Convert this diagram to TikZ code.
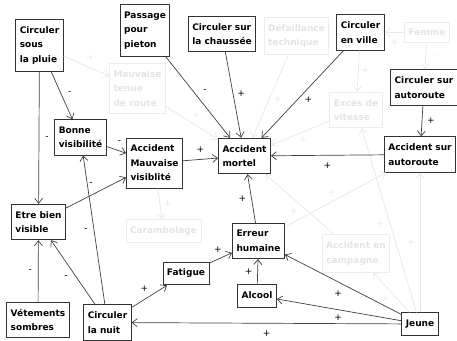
\documentclass[tikz,border=0pt]{standalone}
\usepackage{fontspec}
\setsansfont{DejaVu Sans}
\usetikzlibrary{arrows.meta}
\tikzset{
  cbox/.style={draw=black!80, line width=.9pt, align=left, inner xsep=4pt, inner ysep=7pt,
    font=\sffamily\bfseries\fontsize{9}{14.5}\selectfont},
  ghost/.style={cbox, draw=black!7, text=black!11},
  lbl/.style={inner sep=1pt, midway, font=\sffamily\fontsize{9}{10}\selectfont},
  link/.style={->, draw=black!75, line width=.7pt},
  glink/.style={->, color=black!9, line width=.7pt},
}
\begin{document}
\begin{tikzpicture}[x=1pt, y=-1pt, >={Straight Barb[length=5pt,width=8pt]}]
\useasboundingbox (0,0) rectangle (457,340);
% faded nodes
\node[ghost] (defaillance) at (296.5,36) {Défaillance\\technique};
\node[ghost] (femme) at (427,32.5) {Femme};
\node[ghost] (exces) at (356,110) {Excès de\\vitesse};
\node[ghost] (tenue) at (137.5,88.5) {Mauvaise\\tenue\\de route};
\node[ghost] (caram) at (163.5,231) {Carambolage};
\node[ghost] (campagne) at (356,253.5) {Accident en\\campagne};
% nodes
\node[cbox] (pluie) at (39.5,45.5) {Circuler\\sous\\la pluie};
\node[cbox] (pieton) at (145,30.5) {Passage\\pour\\pieton};
\node[cbox] (chaussee) at (222,34) {Circuler sur\\la chaussée};
\node[cbox] (ville) at (360.5,32.5) {Circuler\\en ville};
\node[cbox] (csauto) at (424,87.5) {Circuler sur\\autoroute};
\node[cbox] (bonne) at (80.5,137.5) {Bonne\\visibilité};
\node[cbox] (accmv) at (154.5,163) {Accident\\Mauvaise\\visiblité};
\node[cbox] (mortel) at (244.5,156) {Accident\\mortel};
\node[cbox] (accauto) at (420,154.5) {Accident sur\\autoroute};
\node[cbox] (etre) at (38.5,222) {Etre bien\\visible};
\node[cbox] (fatigue) at (186,273.5) {Fatigue};
\node[cbox] (vetements) at (38,320) {Vétements\\sombres};
\node[cbox] (nuit) at (107.5,322.5) {Circuler\\la nuit};
\node[cbox] (erreur) at (258.5,241) {Erreur\\humaine};
\node[cbox, minimum height=23pt] (alcool) at (257,295.5) {Alcool};
\node[cbox] (jeune) at (420,324) {Jeune};
% faded links
\draw[glink] (pluie) -- node[lbl, shift={(4,-8)}] {+} (tenue);
\draw[glink] (tenue) -- node[lbl, shift={(4,-7)}] {+} (mortel);
\draw[glink] (defaillance) -- node[lbl, shift={(7,3)}] {+} (mortel);
\draw[glink] (femme) -- node[lbl, shift={(0,10)}] {+} (ville);
\draw[glink] (femme) -- node[lbl, shift={(9,0)}] {-} (csauto);
\draw[glink] (ville) -- node[lbl, shift={(7,0)}] {+} (exces);
\draw[glink] (exces) -- node[lbl, shift={(3,7)}] {+} (mortel);
\draw[glink] (jeune) -- node[lbl, shift={(-9,3)}] {+} (exces);
\draw[glink] (jeune) -- node[lbl, shift={(-9,0)}] {+} (accauto);
\draw[glink] (jeune) -- node[lbl, shift={(-6,6)}] {+} (campagne);
\draw[glink] (erreur) -- node[lbl, shift={(-4,-7)}] {+} (accauto);
\draw[glink] (campagne) -- node[lbl, shift={(-6,7)}] {+} (mortel);
\draw[glink] (accmv) -- node[lbl, shift={(8,0)}] {+} (caram);
% links
\draw[link] (pluie) -- node[lbl, shift={(8,-3)}] {-} (bonne);
\draw[link] (pluie) -- node[lbl, shift={(8,0)}] {-} (etre);
\draw[link] (bonne) -- node[lbl, shift={(3,-8)}] {-} (accmv);
\draw[link] (etre) -- node[lbl, shift={(-5,-9)}] {-} (accmv);
\draw[link] (nuit) -- node[lbl, shift={(-8,0)}] {-} (bonne);
\draw[link] (nuit) -- node[lbl, shift={(-7,5)}] {-} (etre);
\draw[link] (vetements) -- node[lbl, shift={(-8,0)}] {-} (etre);
\draw[link] (nuit) -- node[lbl, shift={(-5,-8)}] {+} (fatigue);
\draw[link] (fatigue) -- node[lbl, shift={(-3,-8)}] {+} (erreur);
\draw[link] (jeune) -- node[lbl, shift={(0,10)}] {+} (nuit);
\draw[link] (jeune) -- node[lbl, shift={(-1,8)}] {+} (alcool);
\draw[link] (jeune) -- node[lbl, shift={(-5,9)}] {+} (erreur);
\draw[link] (alcool) -- node[lbl, shift={(-9,0)}] {+} (erreur);
\draw[link] (erreur) -- node[lbl, shift={(-9,0)}] {+} (mortel);
\draw[link] (accmv) -- node[lbl, shift={(0,-10)}] {+} (mortel);
\draw[link] (pieton) -- node[lbl, shift={(7,-6)}] {-} (mortel);
\draw[link] (chaussee) -- node[lbl, shift={(8,-1)}] {+} (mortel);
\draw[link] (ville) -- node[lbl, shift={(6,5)}] {+} (mortel);
\draw[link] (accauto) -- node[lbl, shift={(0,10)}] {+} (mortel);
\draw[link] (csauto) -- node[lbl, shift={(9,0)}] {+} (accauto);
\end{tikzpicture}
\end{document}
